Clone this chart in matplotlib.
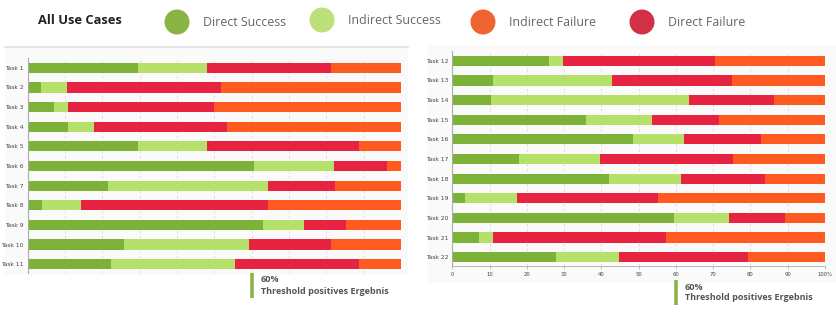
import numpy as np
import matplotlib
matplotlib.use("Agg")
import matplotlib.pyplot as plt
from matplotlib.patches import Circle, Rectangle

plt.rcParams['font.family'] = ['Open Sans', 'DejaVu Sans']

# data: cumulative boundaries, in percent
tasks_left = ["Task %d" % i for i in range(1, 12)]
tasks_right = ["Task %d" % i for i in range(12, 23)]

# end of direct success, end of indirect success, end of direct failure
ds_end_l = [29.6, 3.6, 7.2, 10.8, 29.7, 60.7, 21.5, 3.8, 63.0, 25.9, 22.4]
is_end_l = [48.0, 10.5, 10.9, 17.9, 48.0, 82.1, 64.3, 14.3, 74.1, 59.2, 55.6]
df_end_l = [81.3, 51.7, 50.0, 53.5, 88.7, 96.3, 82.2, 64.3, 85.2, 81.3, 88.8]

ds_end_r = [25.9, 10.8, 10.4, 35.9, 48.4, 18.0, 42.0, 3.5, 59.4, 7.2, 27.7]
is_end_r = [29.8, 42.9, 63.5, 53.7, 62.1, 39.5, 61.4, 17.3, 74.2, 10.8, 44.8]
df_end_r = [70.5, 75.0, 86.3, 71.6, 82.8, 75.2, 83.9, 55.2, 89.2, 57.3, 79.3]

legend_labels = ["Direct Success", "Indirect Success", "Indirect Failure", "Direct Failure"]
threshold = 60

c_ds, c_is, c_df, c_if = '#7db239', '#b5e06a', '#e62442', '#ff5a1f'
leg_colors = ['#8ab446', '#bde07a', '#ee6532', '#d13046']

fig = plt.figure(figsize=(8.36, 3.21), dpi=100)
W, H = 836, 321

# pixel overlay for panels, legend and threshold note
ov = fig.add_axes([0, 0, 1, 1], zorder=-1)
ov.set_xlim(0, W)
ov.set_ylim(H, 0)
ov.axis('off')
ov.add_patch(Rectangle((5, 47), 403, 228, color='#fafafa', lw=0))
ov.add_patch(Rectangle((428, 45), 408, 238, color='#fafafa', lw=0))
ov.plot([5, 408], [47, 47], color='#e3e3e3', lw=1.2)

ov.text(38, 21, "All Use Cases", fontsize=9.3, fontweight='bold', color='#222222', va='center')
leg_x = [177, 322, 483, 642]
leg_y = [22, 20, 22, 22]
for x, y, col, lab in zip(leg_x, leg_y, leg_colors, legend_labels):
    ov.add_patch(Circle((x, y), 12.5, color=col, lw=0))
    ov.text(x + 26, y, lab, fontsize=8.9, color='#666666', va='center')


def draw(ax, tasks, ds, is_, df, show_x):
    y = np.arange(len(tasks))
    ds = np.array(ds)
    is_ = np.array(is_)
    df = np.array(df)
    h = 0.52
    ax.barh(y, ds, height=h, color=c_ds, zorder=2)
    ax.barh(y, is_ - ds, left=ds, height=h, color=c_is, zorder=2)
    ax.barh(y, df - is_, left=is_, height=h, color=c_df, zorder=2)
    ax.barh(y, 100 - df, left=df, height=h, color=c_if, zorder=2)
    ax.set_xlim(0, 100)
    ax.set_ylim(len(tasks) - 0.55, -0.5)
    ax.set_yticks(y)
    ax.set_yticklabels(tasks, fontsize=4.3, family='DejaVu Sans', color='#444444')
    ax.set_facecolor('none')
    ax.set_xticks(np.arange(0, 101, 10))
    ax.xaxis.grid(True, ls=(0, (3, 3)), color='#d8d8d8', lw=0.6, zorder=0)
    for s in ['top', 'right']:
        ax.spines[s].set_visible(False)
    ax.spines['left'].set_color('#aaaaaa')
    ax.tick_params(axis='y', length=0, pad=3)
    if show_x:
        ax.spines['bottom'].set_color('#aaaaaa')
        ax.spines['bottom'].set_linewidth(0.6)
        ax.set_xticklabels([str(v) for v in range(0, 100, 10)] + ['100%'],
                           fontsize=3.8, family='DejaVu Sans', color='#444444')
        ax.tick_params(axis='x', length=2, width=0.5, color='#aaaaaa', pad=2)
    else:
        ax.spines['bottom'].set_visible(False)
        ax.tick_params(axis='x', length=0, labelbottom=False)


axl = fig.add_axes([27.5 / W, 1 - 273 / H, 373.5 / W, 215 / H])
draw(axl, tasks_left, ds_end_l, is_end_l, df_end_l, False)
axr = fig.add_axes([452.3 / W, 1 - 266 / H, 372.7 / W, 215 / H])
draw(axr, tasks_right, ds_end_r, is_end_r, df_end_r, True)

# threshold note under each chart
for ax, y0, y1 in [(axl, 273, 298), (axr, 280, 305)]:
    pos = ax.get_position()
    x = (pos.x0 + pos.width * threshold / 100) * W
    ov.plot([x, x], [y0, y1], color='#8ab446', lw=2.6, solid_capstyle='butt')
    ov.text(x + 9, y0 + 7, "%d%%" % threshold, fontsize=6.5, fontweight='bold',
            color='#555555', va='center')
    ov.text(x + 9, y0 + 18, "Threshold positives Ergebnis", fontsize=6.5,
            fontweight='bold', color='#555555', va='center')

fig.savefig("out.png", dpi=100)
